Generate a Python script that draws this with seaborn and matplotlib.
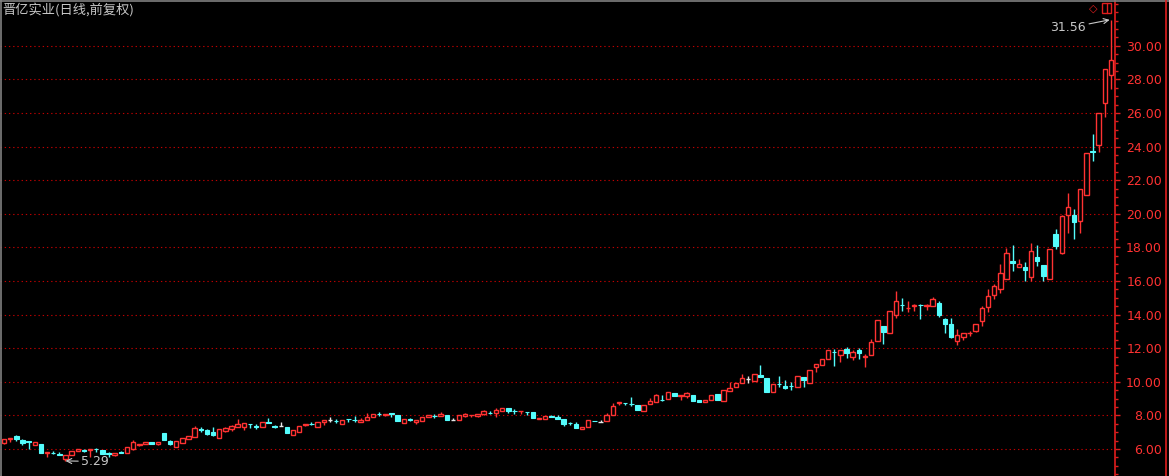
"""
Daily candlestick chart, forward-adjusted prices, trading-terminal style.
"""

import numpy as np
import pandas as pd
import matplotlib
matplotlib.use("Agg")
import matplotlib.pyplot as plt
from matplotlib.ticker import MultipleLocator, FixedLocator
from matplotlib.patches import Rectangle
from matplotlib.lines import Line2D
import seaborn as sns

TITLE = "晋亿实业(日线,前复权)"

OPEN = [6.37, 6.58, 6.77, 6.54, 6.46, 6.22, 6.30, 5.74, 5.76, 5.70,
        5.42, 5.63, 5.86, 5.93, 5.92, 6.00, 5.94, 5.74, 5.64, 5.80,
        5.74, 5.98, 6.26, 6.28, 6.40, 6.32, 6.97, 6.46, 6.14, 6.38,
        6.58, 6.73, 7.18, 7.13, 7.01, 6.67, 7.09, 7.17, 7.29, 7.33,
        7.49, 7.35, 7.29, 7.61, 7.35, 7.37, 7.29, 6.85, 7.01, 7.41,
        7.51, 7.33, 7.59, 7.73, 7.69, 7.51, 7.79, 7.75, 7.63, 7.75,
        7.89, 8.11, 8.03, 8.13, 8.05, 7.53, 7.77, 7.63, 7.69, 7.89,
        7.99, 7.99, 8.01, 7.73, 7.73, 7.97, 8.03, 7.99, 8.10, 8.17,
        8.16, 8.26, 8.44, 8.27, 8.25, 8.21, 8.20, 7.81, 7.81, 7.95,
        7.93, 7.81, 7.55, 7.49, 7.21, 7.29, 7.67, 7.63, 7.69, 8.04,
        8.76, 8.73, 8.69, 8.60, 8.28, 8.67, 8.80, 8.93, 9.00, 9.31,
        9.17, 9.15, 9.19, 8.92, 8.82, 8.92, 9.27, 8.88, 9.43, 9.67,
        9.91, 10.15, 10.07, 10.42, 10.23, 9.39, 9.89, 9.75, 9.77, 9.71,
        10.27, 9.91, 10.86, 10.98, 11.37, 11.79, 11.61, 11.93, 11.49, 11.89,
        11.47, 11.61, 12.41, 13.32, 12.92, 13.96, 14.60, 14.37, 14.53, 14.57,
        14.50, 14.50, 14.67, 13.72, 13.44, 12.45, 12.65, 12.90, 13.00, 13.64,
        14.43, 15.18, 15.50, 16.14, 17.21, 16.81, 16.85, 16.25, 17.41, 16.93,
        16.14, 18.80, 17.69, 19.90, 19.95, 19.55, 21.10, 23.72, 24.08, 26.61,
        28.28]

HIGH = [6.60, 6.64, 6.85, 6.60, 6.46, 6.40, 6.30, 5.82, 5.88, 5.82,
        5.63, 5.86, 5.98, 6.02, 5.98, 6.06, 5.94, 5.84, 5.78, 5.86,
        6.10, 6.54, 6.30, 6.42, 6.40, 6.42, 6.97, 6.54, 6.49, 6.65,
        6.77, 7.37, 7.30, 7.20, 7.30, 7.17, 7.33, 7.45, 7.77, 7.53,
        7.49, 7.47, 7.61, 7.85, 7.45, 7.61, 7.29, 7.13, 7.37, 7.49,
        7.59, 7.61, 7.73, 7.89, 7.79, 7.73, 7.79, 7.97, 7.85, 8.13,
        8.09, 8.19, 8.09, 8.13, 8.05, 7.77, 7.85, 7.73, 7.89, 8.01,
        8.09, 8.19, 8.01, 7.87, 8.01, 8.13, 8.05, 8.11, 8.31, 8.27,
        8.45, 8.44, 8.44, 8.37, 8.27, 8.21, 8.20, 7.85, 7.97, 8.03,
        8.05, 7.81, 7.63, 7.61, 7.31, 7.73, 7.67, 7.71, 8.13, 8.72,
        8.80, 8.73, 9.10, 8.60, 8.60, 9.05, 9.30, 9.20, 9.39, 9.31,
        9.19, 9.39, 9.19, 8.92, 8.94, 9.19, 9.27, 9.51, 9.99, 9.91,
        10.45, 10.35, 10.46, 10.99, 10.23, 9.87, 10.35, 10.11, 9.97, 10.35,
        10.27, 10.70, 11.06, 11.34, 11.89, 11.93, 11.89, 12.05, 11.90, 12.00,
        11.65, 12.57, 13.68, 13.32, 14.20, 15.40, 14.99, 14.79, 14.62, 14.64,
        14.64, 15.05, 14.79, 13.80, 13.80, 13.16, 12.89, 13.05, 13.44, 14.50,
        15.52, 15.80, 17.00, 17.97, 18.13, 17.29, 17.13, 18.25, 18.14, 16.93,
        17.89, 19.07, 19.90, 21.24, 20.27, 21.45, 23.60, 24.75, 25.98, 28.60,
        31.56]

LOW = [6.28, 6.40, 6.49, 6.26, 6.02, 6.22, 5.78, 5.54, 5.70, 5.63,
       5.29, 5.63, 5.86, 5.82, 5.54, 5.82, 5.72, 5.55, 5.60, 5.74,
       5.74, 5.94, 6.20, 6.28, 6.28, 6.22, 6.54, 6.22, 6.14, 6.38,
       6.58, 6.73, 7.03, 6.82, 6.80, 6.67, 7.01, 7.05, 7.29, 7.13,
       7.27, 7.19, 7.29, 7.53, 7.23, 7.37, 6.97, 6.85, 7.01, 7.37,
       7.43, 7.33, 7.45, 7.61, 7.55, 7.51, 7.63, 7.61, 7.63, 7.75,
       7.89, 7.99, 7.95, 7.93, 7.65, 7.53, 7.67, 7.50, 7.69, 7.89,
       7.87, 7.99, 7.73, 7.73, 7.73, 7.93, 7.89, 7.89, 8.05, 8.07,
       7.92, 8.26, 8.17, 8.11, 8.10, 8.01, 7.85, 7.76, 7.81, 7.89,
       7.81, 7.37, 7.43, 7.25, 7.21, 7.29, 7.65, 7.63, 7.69, 8.04,
       8.60, 8.60, 8.55, 8.32, 8.28, 8.67, 8.80, 8.87, 9.00, 9.15,
       8.90, 9.05, 8.88, 8.80, 8.82, 8.92, 8.92, 8.88, 9.43, 9.67,
       9.91, 9.95, 10.07, 10.27, 9.39, 9.39, 9.71, 9.59, 9.53, 9.71,
       9.69, 9.91, 10.60, 10.98, 11.37, 10.94, 11.20, 11.40, 11.30, 11.35,
       10.86, 11.61, 12.41, 12.25, 12.92, 13.78, 14.24, 14.14, 14.24, 13.76,
       14.27, 14.50, 13.86, 12.92, 12.62, 12.17, 12.50, 12.75, 12.95, 13.30,
       14.15, 14.95, 15.26, 16.14, 16.60, 16.81, 16.00, 15.98, 16.90, 15.98,
       16.14, 17.90, 17.60, 18.85, 18.50, 18.84, 21.10, 23.16, 23.70, 25.78,
       27.41]

CLOSE = [6.58, 6.64, 6.58, 6.38, 6.44, 6.40, 5.78, 5.82, 5.74, 5.63,
         5.63, 5.86, 5.98, 5.91, 5.98, 5.98, 5.72, 5.72, 5.78, 5.78,
         6.10, 6.42, 6.30, 6.42, 6.28, 6.42, 6.54, 6.28, 6.49, 6.65,
         6.77, 7.25, 7.15, 6.91, 6.85, 7.17, 7.25, 7.37, 7.49, 7.53,
         7.47, 7.33, 7.61, 7.53, 7.33, 7.37, 6.97, 7.13, 7.37, 7.49,
         7.49, 7.61, 7.73, 7.73, 7.67, 7.73, 7.77, 7.73, 7.73, 7.89,
         8.09, 8.09, 8.09, 8.11, 7.65, 7.77, 7.75, 7.73, 7.89, 8.01,
         7.97, 8.11, 7.73, 7.73, 8.01, 8.07, 8.05, 8.11, 8.26, 8.15,
         8.34, 8.44, 8.26, 8.25, 8.27, 8.19, 7.85, 7.85, 7.97, 7.93,
         7.81, 7.49, 7.53, 7.25, 7.31, 7.73, 7.65, 7.63, 8.01, 8.56,
         8.80, 8.71, 8.67, 8.32, 8.60, 8.83, 9.20, 8.91, 9.39, 9.15,
         9.19, 9.31, 8.88, 8.80, 8.94, 9.19, 8.92, 9.51, 9.63, 9.91,
         10.23, 10.15, 10.46, 10.27, 9.39, 9.87, 9.87, 9.63, 9.75, 10.35,
         10.11, 10.70, 11.06, 11.34, 11.89, 11.77, 11.89, 11.69, 11.77, 11.69,
         11.51, 12.37, 13.68, 12.96, 14.20, 14.79, 14.58, 14.41, 14.57, 14.55,
         14.57, 14.90, 13.96, 13.44, 12.68, 12.77, 12.89, 12.92, 13.44, 14.39,
         15.10, 15.70, 16.46, 17.65, 17.05, 17.01, 16.65, 17.76, 17.21, 16.30,
         17.89, 18.08, 19.87, 20.42, 19.51, 21.45, 23.60, 23.70, 25.98, 28.60,
         29.15]

PRICE_TICKS = [6, 8, 10, 12, 14, 16, 18, 20, 22, 24, 26, 28, 30]

# colours
BG = "#000000"
RED = "#ff3232"
AXIS_RED = "#e01e1e"
GRID_RED = "#c00000"
CYAN = "#54fcfc"
DOJI = "#e6e6e6"
GREY = "#c8c8c8"
FRAME = "#808080"

W, H = 1169, 476
AX_RIGHT = 1115


def build_frame() -> pd.DataFrame:
    df = pd.DataFrame({"open": OPEN, "high": HIGH, "low": LOW, "close": CLOSE})
    df["x"] = np.arange(len(df))
    return df


def draw_candles(ax, df: pd.DataFrame, width: float = 0.72):
    up = df[df["close"] > df["open"]]
    down = df[df["close"] < df["open"]]
    flat = df[df["close"] == df["open"]]

    # up: hollow red body, wicks stop at the body
    ax.vlines(up["x"], up["close"], up["high"], color=RED, lw=1.0)
    ax.vlines(up["x"], up["low"], up["open"], color=RED, lw=1.0)
    ax.bar(up["x"], up["close"] - up["open"], bottom=up["open"], width=width,
           facecolor=BG, edgecolor=RED, linewidth=1.0, zorder=3)

    # down: filled cyan
    ax.vlines(down["x"], down["low"], down["high"], color=CYAN, lw=1.0)
    ax.bar(down["x"], down["close"] - down["open"], bottom=down["open"], width=width,
           color=CYAN, edgecolor=CYAN, linewidth=0.8, zorder=3)

    # unchanged: white cross
    ax.vlines(flat["x"], flat["low"], flat["high"], color=DOJI, lw=1.0)
    ax.hlines(flat["open"], flat["x"] - width / 2, flat["x"] + width / 2,
              color=DOJI, lw=1.0, zorder=3)


def style_axes(ax, n: int):
    ax.set_facecolor(BG)
    ax.set_xlim(-0.65, n - 1 + 0.65)
    ax.set_ylim(6 - 27 / 16.8, 6 + 449 / 16.8)
    ax.set_xticks([])

    for side in ("top", "left", "bottom"):
        ax.spines[side].set_visible(False)
    ax.spines["right"].set_color(AXIS_RED)
    ax.spines["right"].set_linewidth(1.2)

    ax.yaxis.tick_right()
    ax.yaxis.set_major_locator(FixedLocator(PRICE_TICKS))
    ax.yaxis.set_minor_locator(MultipleLocator(0.5))
    ax.set_yticklabels([f"{v:.2f}" for v in PRICE_TICKS])
    ax.tick_params(axis="y", which="major", direction="out", length=3.8, width=1.0,
                   color=AXIS_RED, labelcolor=RED, labelsize=9, pad=30)
    ax.tick_params(axis="y", which="minor", direction="out", length=2.4, width=1.0,
                   color=AXIS_RED)
    for lbl in ax.get_yticklabels():
        lbl.set_horizontalalignment("right")
        lbl.set_family(["DejaVu Sans"])

    # dotted price grid, about one pixel on and two off
    ax.grid(False)
    for v in PRICE_TICKS:
        ax.axhline(v, color=GRID_RED, lw=0.8, linestyle=(0, (1.2, 2.6)), zorder=0)


def annotate_extremes(ax, df: pd.DataFrame):
    i_hi = int(df["high"].idxmax())
    i_lo = int(df["low"].idxmin())
    ax.annotate(f"{df['high'][i_hi]:.2f}", xy=(i_hi, df["high"][i_hi]),
                xytext=(175.9, 31.06), ha="right", va="center",
                color=GREY, fontsize=9, family=["DejaVu Sans"],
                arrowprops=dict(arrowstyle="->", color=GREY, lw=0.8,
                                shrinkA=0, shrinkB=1))
    ax.annotate(f"{df['low'][i_lo]:.2f}", xy=(i_lo, df["low"][i_lo]),
                xytext=(12.6, 5.26), ha="left", va="center",
                color=GREY, fontsize=9, family=["DejaVu Sans"],
                arrowprops=dict(arrowstyle="->", color=GREY, lw=0.8,
                                shrinkA=0, shrinkB=0))


def decorate_figure(fig):
    fig.text(2 / W, 1 - 10 / H, TITLE, color=GREY, fontsize=9.5,
             ha="left", va="center")
    # frame lines on top and left, second axis line on the far right
    fig.add_artist(Line2D([0, 1], [1 - 0.5 / H] * 2, color=FRAME, lw=1.2))
    fig.add_artist(Line2D([0.5 / W] * 2, [0, 1], color=FRAME, lw=1.2))
    fig.add_artist(Line2D([1165.5 / W] * 2, [0, 1], color=AXIS_RED, lw=1.2))
    # small toolbar glyphs top right
    fig.text(1093 / W, 1 - 8.5 / H, "◇", color=AXIS_RED, fontsize=8,
             ha="center", va="center", family=["DejaVu Sans"])
    fig.add_artist(Rectangle((1102 / W, 1 - 13 / H), 9 / W, 10 / H,
                             transform=fig.transFigure, fill=False,
                             ec=AXIS_RED, lw=1.0))
    fig.add_artist(Line2D([1106.5 / W] * 2, [1 - 13 / H, 1 - 3 / H],
                          color=AXIS_RED, lw=1.0))


def run():
    sns.set_theme(style="dark", rc={"axes.facecolor": BG, "figure.facecolor": BG,
                                    "savefig.facecolor": BG})
    plt.rcParams["font.family"] = ["Noto Sans CJK SC", "DejaVu Sans"]

    df = build_frame()

    fig = plt.figure(figsize=(W / 100, H / 100), dpi=100)
    ax = fig.add_axes([0, 0, AX_RIGHT / W, 1])
    style_axes(ax, len(df))
    draw_candles(ax, df)
    annotate_extremes(ax, df)
    decorate_figure(fig)

    fig.savefig("out.png", dpi=100, facecolor=BG)
    plt.close(fig)


if __name__ == "__main__":
    run()
